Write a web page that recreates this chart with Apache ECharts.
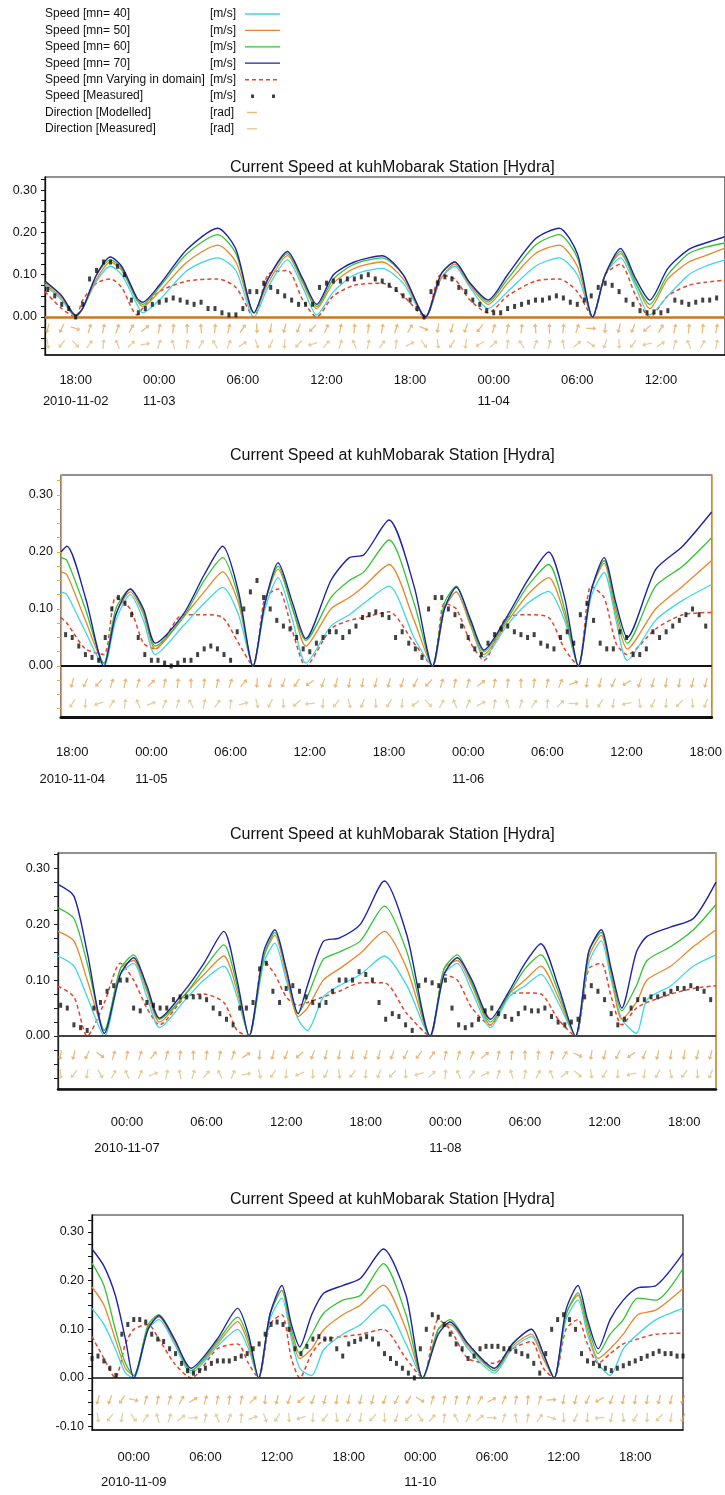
<!DOCTYPE html>
<html>
<head>
<meta charset="utf-8">
<title>Current Speed at kuhMobarak Station [Hydra]</title>
<script src="https://cdn.jsdelivr.net/npm/echarts@6/dist/echarts.min.js"></script>
<style>
  html, body { margin: 0; padding: 0; background: #fff; }
  #chart { width: 725px; height: 1495px; }
</style>
</head>
<body>
<div id="chart"></div>
<script>
// ---- names / units ----
const TITLE = 'Current Speed at kuhMobarak Station [Hydra]';
const speedNames = ['Speed [mn= 40]', 'Speed [mn= 50]', 'Speed [mn= 60]', 'Speed [mn= 70]', 'Speed [mn Varying in domain]'];
const measuredName = 'Speed [Measured]';
const dirNames = ['Direction [Modelled]', 'Direction [Measured]'];
const legendUnits = ['[m/s]', '[m/s]', '[m/s]', '[m/s]', '[m/s]', '[m/s]', '[rad]', '[rad]'];

// axis hour 0 of each panel
const panelDays = ['2010-11-02', '2010-11-04', '2010-11-06', '2010-11-08'];

// tick labels (hours from panel day 0) and y ticks
const p1TickHours = [18, 24, 30, 36, 42, 48, 54, 60];
const p2TickHours = [18, 24, 30, 36, 42, 48, 54, 60, 66];
const p3TickHours = [24, 30, 36, 42, 48, 54, 60, 66];
const p4TickHours = [24, 30, 36, 42, 48, 54, 60, 66];
const yLabels = [0, 0.1, 0.2, 0.3];
const yLabelsLast = [-0.1, 0, 0.1, 0.2, 0.3];
const yTickMarks = [-0.1, -0.075, -0.05, -0.025, 0, 0.025, 0.05, 0.075, 0.1, 0.125, 0.15, 0.175, 0.2, 0.225, 0.25, 0.275, 0.3, 0.325];

// ---- panel 1 : 2010-11-02 .. 11-04 ----
const p1Hours = [15.8, 17.0, 18.0, 18.5, 19.5, 20.5, 21.3, 22.4, 22.8, 24.0, 26.0, 28.2, 29.5, 30.8, 31.8, 33.2, 34.3, 35.3, 36.5, 38.0, 40.0, 41.5, 43.1, 44.2, 45.2, 46.3, 47.6, 49.0, 51.0, 52.7, 54.0, 55.1, 56.0, 57.1, 58.2, 59.2, 60.5, 62.0, 63.2, 64.6];
const p1Mn40 = [.075, .04, .0, .02, .085, .12, .1, .03, .01, .04, .11, .14, .11, .0, .07, .135, .07, .005, .06, .1, .115, .08, .0, .09, .12, .07, .02, .06, .12, .14, .1, .0, .1, .14, .07, .005, .05, .1, .12, .135];
const p1Mn50 = [.078, .045, .0, .02, .09, .13, .11, .04, .025, .06, .13, .17, .13, .01, .08, .145, .08, .02, .08, .115, .13, .09, .0, .09, .125, .075, .03, .08, .15, .17, .12, .0, .1, .15, .08, .02, .09, .13, .145, .163];
const p1Mn60 = [.082, .05, .005, .02, .1, .135, .115, .04, .03, .07, .15, .195, .15, .01, .09, .15, .085, .025, .09, .125, .14, .1, .0, .1, .13, .08, .035, .09, .17, .195, .14, .0, .1, .155, .08, .03, .1, .15, .165, .175];
const p1Mn70 = [.085, .05, .003, .02, .1, .142, .12, .045, .035, .075, .16, .21, .16, .01, .09, .155, .09, .03, .1, .13, .145, .1, .0, .1, .13, .08, .04, .1, .185, .21, .15, .0, .1, .162, .09, .04, .115, .16, .175, .19];
const p1MnVar = [.06, .02, .0, .04, .08, .09, .07, .005, .02, .06, .085, .09, .07, .0, .1, .11, .04, .0, .05, .075, .08, .05, .0, .1, .09, .04, .01, .05, .085, .09, .06, .0, .1, .125, .05, .0, .05, .075, .082, .087];
const p1MeasStart = 16.0;
const p1Meas = [.065, .05, .03, .02, .0, .03, .09, .11, .13, .13, .12, .1, .04, .01, .02, .03, .035, .04, .045, .04,
  .035, .03, .035, .02, .02, .01, .005, .005, .02, .06, .06, .08, .07, .06, .05, .04, .03, .03, .03, .07,
  .08, .085, .085, .09, .09, .095, .1, .09, .085, .075, .065, .05, .04, .02, .0, .06, .08, .095, .09, .07,
  .06, .04, .03, .015, .01, .01, .02, .025, .03, .035, .04, .04, .045, .05, .045, .035, .03, .04, .05, .07,
  .08, .075, .06, .04, .03, .015, .01, .012, .01, .015, .04, .035, .03, .035, .04, .04, .045];
const p1DirStart = 16;
const p1DirModel = [3.4, 3.6, 1.9, 0.3, 0.2, 0.3, 0.5, 0.9, 0.2, 0.1, 0.0, 6.2, 0.1, 0.2, 0.6, 3.1, 3.3, 3.4, 3.5, 3.9, 0.4, 0.2, 0.1, 0.1, 0.2, 0.3, 0.5, 2.0, 3.3, 3.4, 3.5, 3.8, 0.3, 0.2, 0.1, 6.2, 0.0, 0.1, 0.3, 1.6, 3.2, 3.4, 3.5, 4.0, 0.5, 0.2, 0.1, 0.1, 0.2];
const p1DirMeas = [3.0, 3.8, 2.4, 0.6, 0.1, 5.9, 0.8, 1.4, 0.3, 6.0, 0.2, 0.5, 5.8, 0.4, 1.0, 2.8, 3.6, 3.2, 3.9, 4.4, 0.7, 0.3, 5.9, 0.2, 0.6, 0.1, 1.1, 2.5, 3.0, 3.7, 3.3, 4.2, 0.8, 0.1, 5.7, 0.4, 0.2, 6.1, 0.9, 2.2, 3.5, 3.1, 3.8, 4.5, 1.0, 0.3, 5.9, 0.5, 0.2];

// ---- panel 2 : 2010-11-04 .. 11-06 ----
const p2Hours = [17.15, 17.6, 19.0, 20.4, 21.3, 22.4, 23.4, 24.3, 26.4, 28.0, 29.4, 30.6, 31.7, 32.6, 33.6, 34.7, 35.7, 37.6, 39.0, 40.1, 42.0, 43.9, 45.3, 46.2, 47.1, 48.2, 49.2, 50.9, 52.5, 54.1, 55.3, 56.35, 57.3, 58.3, 59.2, 60.05, 62.2, 64.25, 66.45];
const p2Mn40 = [.13, .125, .06, .0, .08, .125, .08, .02, .07, .11, .138, .09, .0, .1, .155, .08, .005, .07, .09, .11, .14, .05, .0, .1, .13, .07, .015, .07, .11, .131, .08, .0, .12, .164, .08, .01, .08, .115, .143];
const p2Mn50 = [.165, .16, .08, .005, .09, .13, .09, .03, .085, .13, .165, .11, .0, .11, .17, .1, .035, .1, .12, .14, .178, .08, .0, .1, .13, .07, .02, .075, .125, .155, .09, .0, .13, .18, .09, .03, .1, .14, .185];
const p2Mn60 = [.19, .185, .1, .005, .1, .135, .095, .035, .085, .15, .19, .12, .0, .11, .175, .1, .045, .12, .15, .165, .221, .11, .0, .11, .14, .075, .025, .08, .14, .178, .1, .0, .13, .185, .1, .04, .14, .175, .225];
const p2Mn70 = [.2, .21, .12, .0, .09, .135, .1, .04, .09, .16, .21, .13, .0, .11, .181, .11, .048, .15, .19, .195, .256, .14, .0, .1, .138, .08, .028, .085, .15, .2, .12, .0, .13, .19, .11, .05, .169, .21, .27];
const p2MnVar = [.085, .075, .03, .02, .12, .1, .04, .03, .09, .09, .085, .04, .0, .12, .135, .06, .0, .065, .08, .085, .095, .04, .0, .11, .1, .04, .01, .085, .09, .085, .03, .0, .14, .12, .04, .02, .065, .09, .094];
const p2MeasStart = 17.0;
const p2Meas = [.06, .055, .05, .035, .02, .015, .01, .05, .1, .12, .11, .09, .05, .02, .01, .01, .005, .0, .005, .01,
  .01, .02, .03, .035, .03, .02, .01, .06, .1, .13, .15, .12, .1, .08, .07, .065, .05, .03, .025, .04,
  .05, .06, .06, .05, .06, .07, .085, .09, .095, .09, .085, .05, .06, .04, .03, .015, .1, .12, .12, .1,
  .09, .07, .05, .03, .02, .04, .055, .065, .07, .06, .055, .05, .055, .04, .035, .03, .05, .06, .04, .09,
  .11, .08, .04, .03, .03, .06, .05, .02, .02, .03, .06, .05, .06, .07, .08, .09, .1, .09, .07, .065];
const p2DirStart = 17;
const p2DirModel = [3.3, 3.4, 3.6, 3.9, 0.3, 0.2, 0.3, 0.8, 0.2, 0.1, 0.0, 0.1, 0.2, 0.3, 0.7, 3.2, 3.4, 3.5, 3.7, 4.1, 3.5, 3.4, 3.3, 3.3, 3.4, 3.4, 3.5, 3.6, 3.9, 0.3, 0.2, 0.3, 0.9, 0.2, 0.1, 0.0, 0.1, 0.2, 0.4, 1.2, 3.3, 3.4, 3.6, 4.2, 3.5, 3.4, 3.3, 3.3, 3.4, 3.4];
const p2DirMeas = [3.0, 3.7, 3.2, 4.4, 0.6, 0.1, 5.9, 1.2, 0.4, 0.3, 5.8, 0.2, 0.6, 0.1, 1.3, 2.9, 3.6, 3.1, 4.0, 4.6, 3.2, 3.8, 2.9, 3.5, 3.1, 3.7, 3.2, 4.1, 2.4, 0.5, 5.9, 0.4, 1.1, 0.2, 6.0, 0.3, 0.6, 0.1, 0.8, 1.6, 3.1, 3.7, 3.3, 4.5, 3.0, 3.6, 3.2, 3.9, 3.1, 3.5];

// ---- panel 3 : 2010-11-06 .. 11-08 ----
const p3Hours = [18.8, 20.0, 21.0, 22.3, 23.5, 24.5, 25.5, 26.45, 28.4, 29.8, 31.3, 32.3, 33.2, 34.3, 35.15, 36.0, 36.9, 37.6, 38.8, 40.0, 41.6, 43.4, 45.1, 46.85, 47.9, 48.9, 50.0, 51.4, 52.8, 54.0, 55.2, 56.5, 57.8, 58.8, 59.75, 60.5, 61.3, 62.4, 63.2, 65.0, 66.7, 68.4];
const p3Mn40 = [.143, .125, .07, .0, .11, .13, .07, .015, .065, .1, .125, .07, .0, .13, .166, .1, .03, .01, .07, .09, .11, .143, .09, .0, .11, .13, .08, .015, .07, .09, .11, .06, .0, .13, .17, .1, .03, .005, .065, .09, .125, .145];
const p3Mn50 = [.187, .17, .1, .01, .12, .135, .08, .025, .075, .11, .143, .08, .0, .14, .18, .11, .035, .05, .1, .12, .148, .187, .12, .0, .12, .135, .09, .02, .075, .1, .125, .07, .0, .14, .18, .11, .03, .06, .1, .125, .16, .19];
const p3Mn60 = [.229, .21, .13, .01, .12, .145, .085, .03, .075, .12, .163, .09, .0, .14, .185, .12, .04, .07, .137, .15, .17, .232, .15, .0, .12, .145, .095, .025, .075, .12, .145, .08, .0, .15, .185, .115, .045, .09, .135, .16, .19, .235];
const p3Mn70 = [.271, .25, .15, .005, .11, .14, .09, .032, .083, .13, .187, .1, .0, .15, .19, .12, .04, .09, .169, .175, .2, .277, .18, .0, .11, .14, .1, .03, .08, .13, .165, .09, .0, .15, .19, .12, .05, .15, .178, .195, .21, .275];
const p3MnVar = [.089, .07, .0, .06, .13, .1, .05, .02, .07, .075, .06, .01, .0, .135, .11, .07, .055, .06, .07, .08, .095, .095, .04, .0, .11, .1, .05, .02, .075, .077, .075, .03, .0, .12, .13, .07, .02, .05, .06, .075, .085, .09];
const p3MeasStart = 19.0;
const p3Meas = [.055, .05, .02, .015, .01, .05, .06, .08, .09, .1, .1, .05, .045, .06, .055, .05, .05, .065, .07, .07,
  .07, .07, .065, .05, .04, .03, .02, .05, .05, .06, .12, .13, .08, .06, .085, .09, .08, .07, .06, .055,
  .06, .08, .1, .1, .1, .115, .11, .1, .06, .03, .04, .035, .02, .01, .09, .1, .095, .09, .1, .05,
  .02, .015, .02, .03, .045, .05, .04, .035, .03, .04, .05, .045, .045, .05, .035, .025, .02, .025, .03, .07,
  .09, .08, .065, .04, .02, .03, .05, .065, .065, .07, .07, .075, .08, .085, .085, .09, .085, .08, .065];
const p3DirStart = 19;
const p3DirModel = [3.3, 3.4, 3.6, 2.2, 0.3, 0.2, 0.3, 0.7, 0.3, 0.1, 0.0, 0.1, 0.2, 0.3, 1.0, 3.2, 3.4, 3.5, 4.0, 3.5, 3.4, 3.3, 3.3, 3.4, 3.4, 3.5, 3.6, 3.8, 0.6, 0.2, 0.3, 0.4, 0.9, 0.2, 0.1, 0.0, 0.1, 0.2, 0.5, 2.0, 3.3, 3.4, 3.6, 4.1, 3.5, 3.4, 3.3, 3.3, 3.4, 3.4];
const p3DirMeas = [3.1, 3.8, 3.3, 2.6, 0.5, 5.9, 0.4, 1.2, 0.2, 6.1, 0.3, 0.7, 5.8, 0.4, 1.4, 2.9, 3.7, 3.2, 4.3, 3.1, 3.6, 3.0, 3.8, 3.2, 3.5, 3.9, 3.1, 4.4, 0.8, 0.1, 5.9, 0.6, 1.1, 0.3, 6.0, 0.2, 0.5, 5.9, 0.9, 2.3, 3.0, 3.7, 3.2, 4.5, 3.3, 3.6, 2.9, 3.8, 3.1, 3.5];

// ---- panel 4 : 2010-11-08 .. 11-10 ----
const p4Hours = [20.5, 21.5, 22.45, 23.3, 24.0, 25.2, 26.1, 27.4, 28.8, 31.0, 32.7, 33.6, 34.45, 35.4, 36.4, 37.2, 37.9, 38.9, 39.9, 41.5, 43.0, 44.9, 46.8, 48.2, 49.5, 50.5, 52.0, 54.2, 55.7, 57.3, 58.3, 59.2, 60.2, 61.2, 62.0, 62.9, 63.9, 65.0, 66.2, 67.75, 70.0];
const p4Mn40 = [.143, .11, .06, .01, .0, .1, .12, .07, .01, .065, .1, .06, .0, .12, .164, .08, .02, .005, .058, .09, .11, .15, .07, .0, .1, .11, .06, .01, .06, .085, .04, .0, .12, .16, .09, .03, .005, .06, .09, .12, .143];
const p4Mn50 = [.187, .15, .08, .02, .005, .105, .125, .075, .015, .07, .116, .07, .0, .13, .18, .09, .04, .06, .099, .13, .15, .191, .1, .0, .1, .11, .065, .015, .065, .09, .04, .0, .13, .17, .1, .04, .06, .09, .13, .14, .184];
const p4Mn60 = [.236, .19, .1, .03, .005, .11, .13, .08, .015, .075, .125, .08, .0, .13, .18, .1, .05, .09, .133, .16, .17, .235, .13, .0, .1, .12, .07, .015, .07, .1, .05, .0, .13, .175, .11, .05, .09, .12, .164, .16, .225];
const p4Mn70 = [.265, .23, .17, .08, .0, .1, .128, .08, .02, .08, .143, .09, .0, .13, .19, .11, .064, .13, .174, .19, .205, .265, .17, .0, .09, .115, .07, .02, .07, .1, .05, .0, .14, .19, .12, .06, .12, .16, .185, .19, .256];
const p4MnVar = [.085, .04, .0, .07, .1, .11, .08, .03, .0, .06, .07, .03, .0, .11, .13, .04, .0, .05, .078, .085, .09, .1, .04, .0, .12, .1, .04, .03, .06, .075, .02, .0, .1, .12, .07, .03, .05, .07, .08, .09, .092];
const p4MeasStart = 20.5;
const p4Meas = [.04, .045, .035, .02, .005, .09, .11, .12, .12, .115, .09, .08, .075, .06, .05, .03, .015, .01, .015, .02,
  .03, .035, .035, .035, .04, .045, .05, .06, .07, .09, .11, .115, .11, .1, .06, .05, .065, .08, .085, .08,
  .08, .06, .045, .07, .075, .08, .085, .08, .07, .05, .04, .03, .02, .01, .0, .06, .1, .13, .125, .11,
  .09, .07, .06, .04, .045, .06, .065, .065, .065, .06, .06, .055, .05, .045, .03, .01, .05, .1, .12, .13,
  .12, .1, .05, .035, .03, .025, .02, .015, .02, .025, .03, .035, .04, .045, .05, .055, .05, .05, .045, .045];
const p4DirStart = 21;
const p4DirModel = [3.4, 3.5, 3.7, 1.8, 0.3, 0.2, 0.3, 0.5, 1.0, 0.3, 0.2, 0.1, 0.2, 0.8, 3.2, 3.4, 3.5, 4.0, 3.5, 3.4, 3.3, 3.3, 3.4, 3.4, 3.5, 3.6, 3.7, 2.1, 0.3, 0.2, 0.2, 0.3, 0.5, 1.1, 0.4, 0.2, 0.1, 0.3, 1.5, 3.3, 3.4, 3.6, 4.2, 3.5, 3.4, 3.3, 3.3, 3.4, 3.4, 3.5];
const p4DirMeas = [3.0, 3.8, 3.3, 2.5, 0.6, 6.0, 0.3, 0.9, 1.5, 0.2, 5.9, 0.4, 0.1, 1.2, 2.8, 3.7, 3.1, 4.4, 3.2, 3.8, 3.0, 3.6, 3.3, 3.9, 3.1, 3.5, 4.0, 2.6, 0.7, 0.1, 5.8, 0.5, 0.9, 1.6, 0.3, 6.1, 0.2, 0.6, 1.9, 3.1, 3.6, 3.2, 4.6, 3.4, 3.0, 3.7, 3.2, 3.9, 3.3, 3.6];

const panelData = [
  { hours: p1Hours, speeds: [p1Mn40, p1Mn50, p1Mn60, p1Mn70, p1MnVar], measStart: p1MeasStart, meas: p1Meas, dirStart: p1DirStart, dirs: [p1DirModel, p1DirMeas], ticks: p1TickHours, yLabels: yLabels },
  { hours: p2Hours, speeds: [p2Mn40, p2Mn50, p2Mn60, p2Mn70, p2MnVar], measStart: p2MeasStart, meas: p2Meas, dirStart: p2DirStart, dirs: [p2DirModel, p2DirMeas], ticks: p2TickHours, yLabels: yLabels },
  { hours: p3Hours, speeds: [p3Mn40, p3Mn50, p3Mn60, p3Mn70, p3MnVar], measStart: p3MeasStart, meas: p3Meas, dirStart: p3DirStart, dirs: [p3DirModel, p3DirMeas], ticks: p3TickHours, yLabels: yLabels },
  { hours: p4Hours, speeds: [p4Mn40, p4Mn50, p4Mn60, p4Mn70, p4MnVar], measStart: p4MeasStart, meas: p4Meas, dirStart: p4DirStart, dirs: [p4DirModel, p4DirMeas], ticks: p4TickHours, yLabels: yLabelsLast }
];

// ---- layout / style ----
const FONT = "'Liberation Sans', Arial, sans-serif";
const ORANGE_AXIS = '#E9A447';
const lineColors = ['#3CD6E6', '#E8862C', '#33C433', '#1E22A8', '#E2452C'];
const dirColors = ['#E39A3E', '#DDB870'];

const layouts = [
  { grid: { left: 45, top: 177, width: 680, height: 178 }, x: [15.8, 64.6], y: [-0.0898, 0.331], titleY: 165,
    labelMargin: 15, labelLine: 21, bottom: ['#111', 1.5], left: '#111', right: null, zero: ['#C8781E', 2.5], dirRows: [-0.027, -0.064] },
  { grid: { left: 61, top: 475, width: 652, height: 242 }, x: [17.15, 66.45], y: [-0.0895, 0.335], titleY: 453,
    labelMargin: 22, labelLine: 27, bottom: ['#111', 3], left: ORANGE_AXIS, right: ORANGE_AXIS, zero: ['#111', 2], dirRows: [-0.03, -0.066] },
  { grid: { left: 58, top: 853, width: 658, height: 236 }, x: [18.8, 68.4], y: [-0.0946, 0.327], titleY: 832,
    labelMargin: 20, labelLine: 26, bottom: ['#111', 2.5], left: '#222', right: ORANGE_AXIS, zero: ['#444', 1.8], dirRows: [-0.034, -0.068] },
  { grid: { left: 92, top: 1215, width: 591, height: 215 }, x: [20.5, 70.0], y: [-0.107, 0.335], titleY: 1197,
    labelMargin: 15, labelLine: 25, bottom: ['#111', 1.5], left: '#111', right: null, zero: ['#111', 1.5], dirRows: [-0.045, -0.082] }
];

function pad(n) { return String(n).padStart(2, '0'); }
function tickLabel(i, h) {
  const t = new Date(Date.parse(panelDays[i] + 'T00:00:00Z') + h * 3600000);
  const hm = pad(t.getUTCHours()) + ':' + pad(t.getUTCMinutes());
  const md = pad(t.getUTCMonth() + 1) + '-' + pad(t.getUTCDate());
  if (h === panelData[i].ticks[0]) return hm + '\n' + t.getUTCFullYear() + '-' + md;
  if (t.getUTCHours() === 0) return hm + '\n' + md;
  return hm;
}

const measure = document.createElement('canvas').getContext('2d');
measure.font = '16px ' + FONT;
const titleWidth = measure.measureText(TITLE).width;

const arrowPath = 'path://M4,0 L8,4.5 L5,4.5 L5,14 L3,14 L3,4.5 L0,4.5 Z';

const series = [];
const grids = [], xAxes = [], yAxes = [], titles = [];
panelData.forEach((d, i) => {
  const L = layouts[i];
  grids.push(Object.assign({ show: true, borderColor: '#222', borderWidth: 1.2 }, L.grid));
  titles.push({
    text: TITLE, left: Math.round(387 - titleWidth / 2), top: L.titleY - 10,
    textStyle: { fontFamily: FONT, fontSize: 16, fontWeight: 'normal', color: '#111' }
  });
  xAxes.push({
    type: 'value', gridIndex: i, min: L.x[0], max: L.x[1],
    axisLine: { show: true, onZero: false, lineStyle: { color: L.bottom[0], width: L.bottom[1] } },
    axisTick: { show: false }, splitLine: { show: false },
    axisLabel: {
      customValues: d.ticks, formatter: (v) => tickLabel(i, v), margin: L.labelMargin, lineHeight: L.labelLine,
      fontFamily: FONT, fontSize: 13, color: '#111'
    }
  });
  yAxes.push({
    type: 'value', gridIndex: i, position: 'left', min: L.y[0], max: L.y[1],
    axisLine: { show: true, onZero: false, lineStyle: { color: L.left, width: 1.3 } },
    axisTick: { show: true, customValues: yTickMarks, length: 4, lineStyle: { color: L.left } },
    axisLabel: { customValues: d.yLabels, formatter: (v) => v.toFixed(2), margin: 8, fontFamily: FONT, fontSize: 12.5, color: '#111' },
    splitLine: { show: false }
  });
  yAxes.push({
    type: 'value', gridIndex: i, position: 'right', min: L.y[0], max: L.y[1],
    axisLine: { show: !!L.right, onZero: false, lineStyle: { color: L.right || '#222', width: 1.6 } },
    axisTick: { show: false }, axisLabel: { show: false }, splitLine: { show: false }
  });

  // direction sticks
  d.dirs.forEach((vals, k) => {
    series.push({
      name: dirNames[k], type: 'scatter', xAxisIndex: i, yAxisIndex: 2 * i,
      symbol: arrowPath, symbolSize: [5, 10], z: 1, silent: true,
      itemStyle: { color: dirColors[k], opacity: 0.7 },
      data: vals.map((a, j) => ({ value: [d.dirStart + j, L.dirRows[k], a], symbolRotate: -a * 180 / Math.PI }))
    });
  });

  // modelled speeds: draw varying first, then mn40 .. mn70
  [4, 0, 1, 2, 3].forEach((k, order) => {
    series.push({
      name: speedNames[k], type: 'line', xAxisIndex: i, yAxisIndex: 2 * i,
      data: d.hours.map((h, j) => [h, d.speeds[k][j]]),
      symbol: 'none', showSymbol: false, smooth: 0.25, z: 3 + order, silent: true,
      lineStyle: k === 4 ? { color: lineColors[k], width: 1.5, type: [4, 3] } : { color: lineColors[k], width: k === 3 ? 1.4 : 1.3 },
      itemStyle: { color: lineColors[k] }
    });
  });

  // measured speed
  series.push({
    name: measuredName, type: 'scatter', xAxisIndex: i, yAxisIndex: 2 * i,
    symbol: 'rect', symbolSize: [3, 5], z: 8, silent: true,
    itemStyle: { color: '#111' },
    data: d.meas.map((v, j) => [d.measStart + j * 0.5, v]),
    markLine: {
      silent: true, symbol: ['none', 'none'], label: { show: false }, animation: false,
      lineStyle: { color: L.zero[0], width: L.zero[1], type: 'solid' },
      data: [{ yAxis: 0 }]
    }
  });
});

// legend icons (35 x 12 boxes)
const boxPad = 'path://M0,0h0.01v0.01h-0.01zM35,12h0.01v0.01h-0.01z';
const solidIcon = boxPad + 'M0,5.35h35v1.3h-35z';
const dashedIcon = boxPad + 'M0,5.3h4v1.5h-4zM7,5.3h4v1.5h-4zM14,5.3h4v1.5h-4zM21,5.3h4v1.5h-4zM28,5.3h4v1.5h-4z';
const legendItems = speedNames.map((n, k) => ({ name: n, icon: k === 4 ? dashedIcon : solidIcon }))
  .concat([{ name: measuredName, icon: boxPad + 'M6,4.5h3v3.5h-3zM27,4.5h3v3.5h-3z' }])
  .concat(dirNames.map((n) => ({ name: n, icon: boxPad + 'M2,5.3h10v1.5h-10z' })));
const allNames = speedNames.concat([measuredName], dirNames);

const chart = echarts.init(document.getElementById('chart'));
chart.setOption({
  animation: false,
  backgroundColor: '#ffffff',
  title: titles,
  legend: {
    data: legendItems, orient: 'vertical', left: 45, top: 8, padding: 0,
    align: 'right', itemWidth: 35, itemHeight: 12, itemGap: 4.4, selectedMode: false, symbolRotate: 0,
    formatter: (name) => '{n|' + name + '}{u|' + legendUnits[allNames.indexOf(name)] + '}',
    textStyle: {
      color: '#111', align: 'left',
      rich: {
        n: { width: 165, align: 'left', fontFamily: FONT, fontSize: 12, lineHeight: 14, color: '#111' },
        u: { width: 30, align: 'left', fontFamily: FONT, fontSize: 12, lineHeight: 14, color: '#111' }
      }
    }
  },
  grid: grids,
  xAxis: xAxes,
  yAxis: yAxes,
  series: series
});
</script>
</body>
</html>
